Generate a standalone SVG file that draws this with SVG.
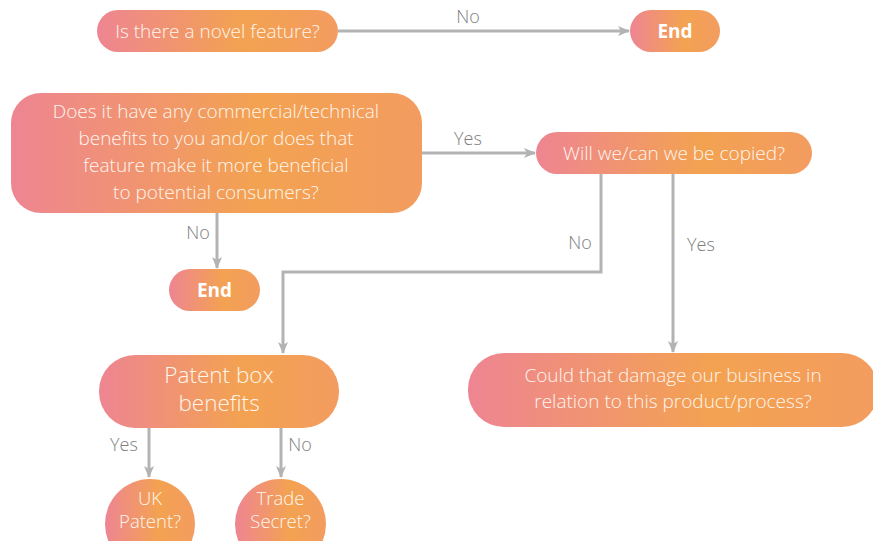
<svg xmlns="http://www.w3.org/2000/svg" width="873" height="541" viewBox="0 0 873 541">
<defs>
<linearGradient id="g" x1="0" y1="0" x2="1" y2="0">
<stop offset="0" stop-color="#ee8592"/>
<stop offset="0.6" stop-color="#f3a251"/>
<stop offset="1" stop-color="#f39c60"/>
</linearGradient>
<marker id="arr" viewBox="0 0 12 10" refX="11" refY="5" markerWidth="12" markerHeight="10" markerUnits="userSpaceOnUse" orient="auto">
<path d="M0,0 L12,5 L0,10 L3,5 z" fill="#b3b3b3"/>
</marker>
<style>
.n{fill:url(#g)}
.t{font-family:"Open Sans","Liberation Sans",sans-serif;font-weight:300;fill:#fff6ee;text-anchor:middle;font-size:19px}
.b{font-family:"Open Sans","Liberation Sans",sans-serif;font-weight:700;fill:#fff;text-anchor:middle;font-size:19px}
.l{font-family:"Open Sans","Liberation Sans",sans-serif;font-weight:300;fill:#7d7d7d;font-size:18px;text-anchor:middle}
.c{fill:none;stroke:#b3b3b3;stroke-width:3;marker-end:url(#arr)}
</style>
</defs>
<g id="connectors">
<path class="c" d="M338,31 H629"/>
<path class="c" d="M422,153 H535"/>
<path class="c" d="M217,213 V268"/>
<path class="c" d="M601,174 V272 H283 V353"/>
<path class="c" d="M673,174 V352"/>
<path class="c" d="M149,428 V477"/>
<path class="c" d="M281,428 V477"/>
<text class="l" x="468" y="23">No</text>
<text class="l" x="468" y="145">Yes</text>
<text class="l" x="198" y="239">No</text>
<text class="l" x="580" y="249">No</text>
<text class="l" x="701" y="251">Yes</text>
<text class="l" x="124" y="451">Yes</text>
<text class="l" x="300" y="451">No</text>
</g>
<g id="novel">
<rect class="n" x="97" y="10" width="241" height="42" rx="21"/>
<text class="t" x="217.5" y="37.5">Is there a novel feature?</text>
</g>
<g id="end1">
<rect class="n" x="630" y="10" width="90" height="42" rx="21"/>
<text class="b" x="675" y="38">End</text>
</g>
<g id="benefits">
<rect class="n" x="11" y="93" width="411" height="120" rx="30"/>
<text class="t" x="216" y="118">Does it have any commercial/technical</text>
<text class="t" x="216" y="145">benefits to you and/or does that</text>
<text class="t" x="216" y="172">feature make it more beneficial</text>
<text class="t" x="216" y="199">to potential consumers?</text>
</g>
<g id="copied">
<rect class="n" x="536" y="132" width="276" height="42" rx="21"/>
<text class="t" x="674" y="159.5">Will we/can we be copied?</text>
</g>
<g id="end2">
<rect class="n" x="169" y="269" width="91" height="42" rx="21"/>
<text class="b" x="214.5" y="297">End</text>
</g>
<g id="patentbox">
<rect class="n" x="99" y="355" width="240" height="73" rx="36"/>
<text class="t" x="219" y="383" style="font-size:22.5px">Patent box</text>
<text class="t" x="219" y="411" style="font-size:22.5px">benefits</text>
</g>
<g id="damage">
<rect class="n" x="468" y="353" width="410" height="74" rx="36"/>
<text class="t" x="673" y="382">Could that damage our business in</text>
<text class="t" x="673" y="408">relation to this product/process?</text>
</g>
<g id="ukpatent">
<rect class="n" x="105" y="479" width="90" height="90" rx="45"/>
<text class="t" x="150" y="505" style="font-size:18.5px">UK</text>
<text class="t" x="150" y="528" style="font-size:18.5px">Patent?</text>
</g>
<g id="tradesecret">
<rect class="n" x="235" y="479" width="91" height="90" rx="45"/>
<text class="t" x="280.5" y="505" style="font-size:18.5px">Trade</text>
<text class="t" x="280.5" y="528" style="font-size:18.5px">Secret?</text>
</g>
</svg>
